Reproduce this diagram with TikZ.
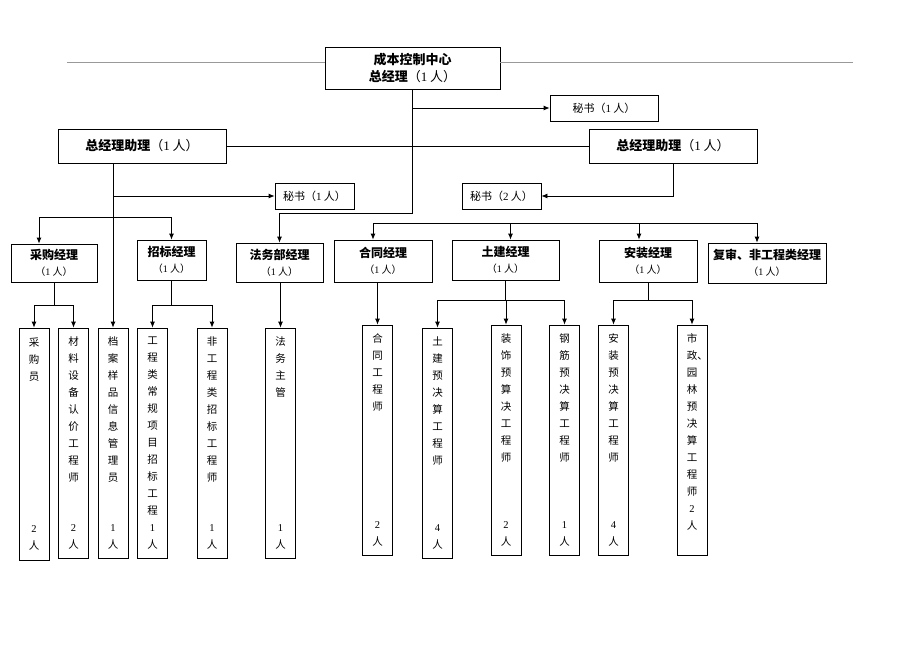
\documentclass[tikz,border=0pt]{standalone}
\usepackage{fontspec}
\setmainfont{Liberation Serif}
\newfontfamily\cjk{Noto Sans CJK SC}
\usetikzlibrary{arrows.meta}

\tikzstyle{gmbox}=[draw, align=center, inner sep=0pt, minimum width=175pt, minimum height=42pt, font=\cjk\fontsize{13}{17}\selectfont]
\tikzstyle{asbox}=[draw, inner sep=0pt, minimum width=168pt, minimum height=34pt, font=\cjk\fontsize{13}{17}\selectfont]
\tikzstyle{secbox}=[draw, inner sep=0pt, minimum height=26pt, font=\cjk\fontsize{11}{13}\selectfont]
\tikzstyle{mgrbox}=[draw, align=center, inner sep=0pt, font=\cjk\fontsize{12}{16}\selectfont]
\tikzstyle{staff}=[draw, inner sep=0pt, minimum width=30pt, minimum height=230pt, font=\cjk]
\tikzstyle{rule}=[draw=gray!80]
\tikzstyle{arr}=[-{Latex[length=6pt,width=5pt]}]

\newcommand{\one}{{\rmfamily 1}}
\newcommand{\cnt}{{\mdseries\fontsize{10}{16}\selectfont （\one{} 人）}}
\newcommand{\vlab}[2]{\parbox[c][212pt][t]{26pt}{\centering\fontsize{10.5}{17}\selectfont #1\par\vfill #2\par}}

\begin{document}
\begin{tikzpicture}[x=1pt,y=-1pt,line width=0.8pt]
\useasboundingbox (0,0) rectangle (920,651);

% top
\node[gmbox] (gm) at (412.5,68) {\bfseries 成本控制中心\\{\bfseries 总经理}{\mdseries （\one{} 人）}};
\coordinate (l1) at (67,62);
\coordinate (l2) at (853,62);
\draw[rule] (l1) -- (l1 -| gm.west);
\draw[rule] (gm.east |- l2) -- (l2);

\node[secbox, minimum width=108pt] (s1) at (604,108) {秘书（\one{} 人）};
\node[asbox] (as1) at (142,146) {{\bfseries 总经理助理}（\one{} 人）};
\node[asbox] (as2) at (673,146) {{\bfseries 总经理助理}（\one{} 人）};
\node[secbox, minimum width=79pt] (s2) at (314.5,196) {秘书（\one{} 人）};
\node[secbox, minimum width=79pt] (s3) at (501.5,196) {秘书（{\rmfamily 2} 人）};

% managers
\node[mgrbox, minimum width=86pt, minimum height=38pt] (m1) at (54,263) {\bfseries 采购经理\\\cnt};
\node[mgrbox, minimum width=69pt, minimum height=40pt] (m2) at (171.5,260) {\bfseries 招标经理\\\cnt};
\node[mgrbox, minimum width=87pt, minimum height=39pt] (m3) at (279.5,262.5) {\bfseries 法务部经理\\\cnt};
\node[mgrbox, minimum width=98pt, minimum height=42pt] (m4) at (383,261) {\bfseries 合同经理\\\cnt};
\node[mgrbox, minimum width=107pt, minimum height=40pt] (m5) at (505.5,260) {\bfseries 土建经理\\\cnt};
\node[mgrbox, minimum width=98pt, minimum height=42pt] (m6) at (648,261) {\bfseries 安装经理\\\cnt};
\node[mgrbox, minimum width=118pt, minimum height=40pt] (m7) at (767,263) {\bfseries 复审、非工程类经理\\\cnt};

% staff
\node[staff, minimum height=232pt] (e1) at (34,444) {\vlab{采\\购\\员}{{\rmfamily 2}\\人}};
\node[staff] (e2) at (73.5,443) {\vlab{材\\料\\设\\备\\认\\价\\工\\程\\师}{{\rmfamily 2}\\人}};
\node[staff] (e3) at (113,443) {\vlab{档\\案\\样\\品\\信\\息\\管\\理\\员}{\one\\人}};
\node[staff] (e4) at (152.5,443) {\vlab{工\\程\\类\\常\\规\\项\\目\\招\\标\\工\\程}{\one\\人}};
\node[staff] (e5) at (212,443) {\vlab{非\\工\\程\\类\\招\\标\\工\\程\\师}{\one\\人}};
\node[staff] (e6) at (280.5,443) {\vlab{法\\务\\主\\管}{\one\\人}};
\node[staff] (e7) at (377.5,440) {\vlab{合\\同\\工\\程\\师}{{\rmfamily 2}\\人}};
\node[staff] (e8) at (437.5,443) {\vlab{土\\建\\预\\决\\算\\工\\程\\师}{{\rmfamily 4}\\人}};
\node[staff] (e9) at (506,440) {\vlab{装\\饰\\预\\算\\决\\工\\程\\师}{{\rmfamily 2}\\人}};
\node[staff] (e10) at (564.5,440) {\vlab{钢\\筋\\预\\决\\算\\工\\程\\师}{\one\\人}};
\node[staff] (e11) at (613.5,440) {\vlab{安\\装\\预\\决\\算\\工\\程\\师}{{\rmfamily 4}\\人}};
\node[staff] (e12) at (692,440) {\vlab{市\\政\rlap{、}\\园\\林\\预\\决\\算\\工\\程\\师\\{\rmfamily 2}\\人}{}};

% connectors
\draw (as1.east) -- (as2.west);
\coordinate (k0) at (0,213);
\draw[arr] (gm.south) -- (gm.south |- k0) -| (m3.north);
\draw[arr] (gm.south |- s1.west) -- (s1.west);

\draw[arr] (as1.south -| e3.north) -- (e3.north);
\draw[arr] (as1.south -| e3.north) |- (s2.west);
\coordinate (k1) at (0,217);
\draw[arr] (k1 -| e3.north) -| ([xshift=-15pt]m1.north);
\draw[arr] (k1 -| e3.north) -| (m2.north);

\draw[arr] (as2.south) |- (s3.east);
\coordinate (k2) at (0,223);
\draw ([xshift=-10pt]m4.north |- k2) -- ([xshift=-10pt]m7.north |- k2);
\foreach \m/\dx in {m4/-10,m5/5,m6/-9,m7/-10}
  \draw[arr] ([xshift=\dx pt]\m.north |- k2) -- ([xshift=\dx pt]\m.north);

\coordinate (k3) at (0,305);
\foreach \st in {e1,e2}
  \draw[arr] (m1.south) |- (k3 -| \st.north) -- (\st.north);
\foreach \st in {e4,e5}
  \draw[arr] (m2.south) |- (k3 -| \st.north) -- (\st.north);
\draw[arr] (e6.north |- m3.south) -- (e6.north);
\draw[arr] (e7.north |- m4.south) -- (e7.north);
\coordinate (k4) at (0,300);
\foreach \st in {e8,e9,e10}
  \draw[arr] (m5.south) |- (k4 -| \st.north) -- (\st.north);
\foreach \st in {e11,e12}
  \draw[arr] (m6.south) |- (k4 -| \st.north) -- (\st.north);
\end{tikzpicture}
\end{document}
